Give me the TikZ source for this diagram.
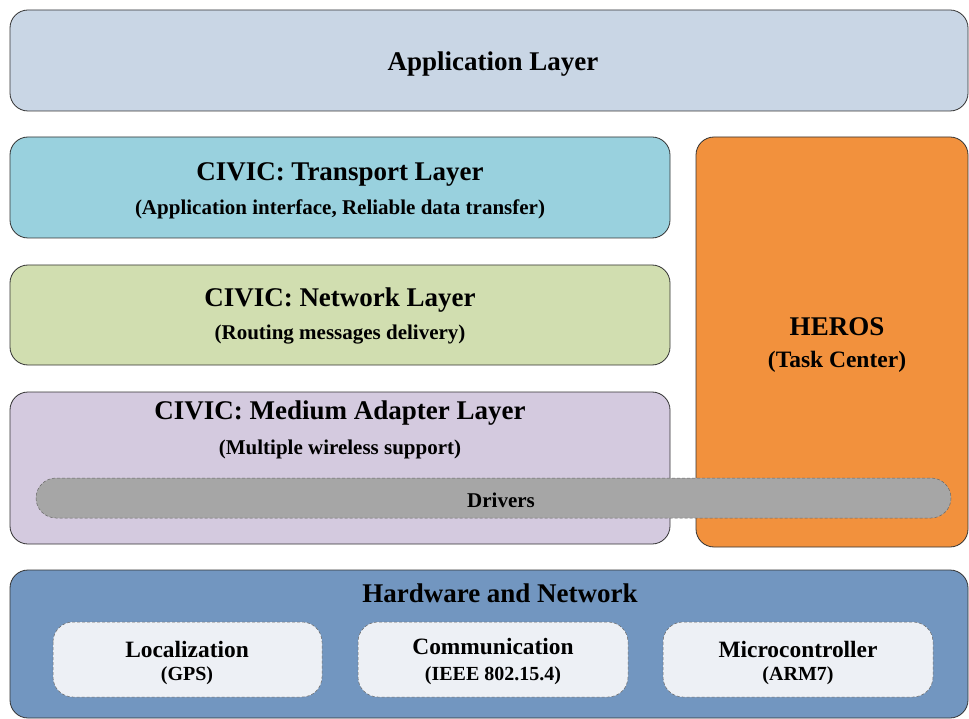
\documentclass[tikz,border=0pt]{standalone}
\usepackage{fontspec}
\setmainfont{Liberation Serif}
\usepackage{tikz}

\definecolor{appblue}{HTML}{C9D6E5}
\definecolor{transcyan}{HTML}{99D1DE}
\definecolor{netgreen}{HTML}{D1DEB0}
\definecolor{medlilac}{HTML}{D4CADF}
\definecolor{herosorange}{HTML}{F2913D}
\definecolor{drvgray}{HTML}{A6A6A6}
\definecolor{hwblue}{HTML}{7296C0}
\definecolor{hwinner}{HTML}{EDF0F5}

\begin{document}
\begin{tikzpicture}[x=1pt,y=-1pt,
	layer/.style={draw=black!80, line width=0.8pt, rounded corners=18pt},
	inbox/.style={draw=black!60, densely dashed, line width=0.5pt, rounded corners=20pt},
	big/.style={font=\fontsize{27}{31}\selectfont\bfseries},
	small/.style={font=\fontsize{21}{25}\selectfont\bfseries},
	hwbig/.style={font=\fontsize{23.4}{27}\selectfont\bfseries},
	hwsmall/.style={font=\fontsize{20}{24}\selectfont\bfseries}]
	\useasboundingbox (0,0) rectangle (969,719);

	% application
	\draw[layer, fill=appblue] (10,10) rectangle (968,111);
	\path (493,64) node[big] (app) {Application Layer};

	% civic stack
	\draw[layer, fill=transcyan] (10,137) rectangle (670,238);
	\path (340,174) node[big] (trans) {CIVIC: Transport Layer};
	\path (340,209) node[small] (transsub) {(Application interface, Reliable data transfer)};

	\draw[layer, fill=netgreen] (10,265) rectangle (670,365);
	\path (340,300) node[big] (net) {CIVIC: Network Layer};
	\path (340,335) node[small] (netsub) {(Routing messages delivery)};

	\draw[layer, fill=medlilac] (10,392) rectangle (670,544);
	\path (340,413) node[big] (med) {CIVIC: Medium Adapter Layer};
	\path (340,449) node[small] (medsub) {(Multiple wireless support)};

	% heros
	\draw[layer, fill=herosorange] (696,137) rectangle (968,547);
	\path (837,327) node[big] (heros) {HEROS};
	\path (837,362) node[font=\fontsize{23.5}{27}\selectfont\bfseries] (herossub) {(Task Center)};

	% drivers
	\draw[inbox, fill=drvgray] (36,478) rectangle (951,518);
	\path (501,500) node[small] (drv) {Drivers};

	% hardware
	\draw[layer, fill=hwblue] (10,570) rectangle (968,718);
	\path (500,593) node[big] (hw) {Hardware and Network};

	\draw[inbox, fill=hwinner] (53,622) rectangle (322,697);
	\path (187,649) node[hwbig] (loc) {Localization};
	\path (187,676) node[hwsmall] (locsub) {(GPS)};

	\draw[inbox, fill=hwinner] (358,622) rectangle (628,697);
	\path (493,647) node[hwbig] (comm) {Communication};
	\path (493,676) node[hwsmall] (commsub) {(IEEE 802.15.4)};

	\draw[inbox, fill=hwinner] (663,622) rectangle (933,697);
	\path (798,649) node[hwbig] (mcu) {Microcontroller};
	\path (798,676) node[hwsmall] (mcusub) {(ARM7)};
\end{tikzpicture}
\end{document}
